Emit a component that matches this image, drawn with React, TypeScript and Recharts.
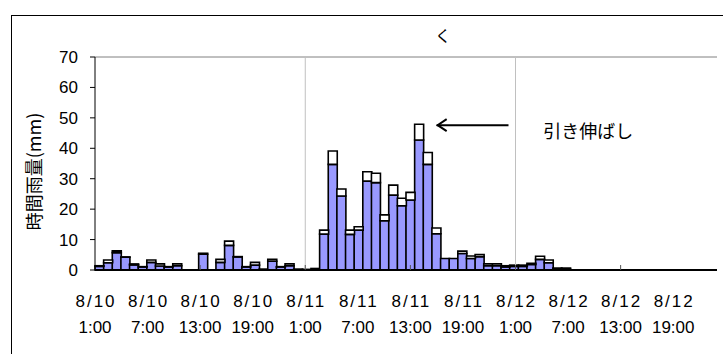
import React from "react";
import {
  Bar,
  BarChart,
  ReferenceDot,
  ReferenceLine,
  XAxis,
  YAxis,
} from "recharts";

const FONT = "'Noto Sans CJK JP', 'Liberation Sans', sans-serif";
const NUM_FONT = "'Liberation Sans', Arial, sans-serif";

const days = ["8/10", "8/11", "8/12"];

// hourly rainfall (mm), 8/10 1:00 .. 8/13 0:00
const observed = [
  1.2, 2.4, 5.7, 4.2, 1.7, 1.0, 2.5, 1.3, 1.0, 1.4, 0, 0,
  5.2, 0, 2.5, 8.1, 4.3, 1.0, 1.6, 0.3, 2.9, 1.0, 1.4, 0.3,
  0.2, 0.5, 11.8, 34.7, 24.3, 11.7, 13.1, 29.2, 28.7, 16.2, 24.6, 21.1,
  23.0, 42.7, 34.7, 11.9, 3.8, 3.8, 5.4, 3.8, 4.4, 1.4, 1.4, 1.0,
  1.2, 1.2, 1.8, 3.5, 2.4, 0.5, 0.5, 0, 0, 0, 0, 0,
  0, 0, 0, 0, 0, 0, 0, 0, 0, 0, 0, 0,
];

// extra amount added by stretching (引き伸ばし)
const stretched = [
  0.2, 0.9, 0.6, 0.1, 0.3, 0.1, 0.8, 0.7, 0.1, 0.6, 0, 0,
  0.3, 0, 1.0, 1.4, 0.1, 0.1, 0.9, 0, 0.6, 0.1, 0.6, 0,
  0, 0, 1.3, 4.4, 2.3, 1.4, 1.1, 3.1, 3.1, 1.9, 3.3, 2.5,
  2.5, 5.2, 3.9, 1.9, 0, 0, 0.8, 0.8, 0.7, 0.6, 0.6, 0.4,
  0.4, 0.4, 0.4, 1.0, 0.9, 0.1, 0.1, 0, 0, 0, 0, 0,
  0, 0, 0, 0, 0, 0, 0, 0, 0, 0, 0, 0,
];

const tickPositions = [0, 6, 12, 18, 24, 30, 36, 42, 48, 54, 60, 66];
const tickLabels = [
  ["8/10", "1:00"], ["8/10", "7:00"], ["8/10", "13:00"], ["8/10", "19:00"],
  ["8/11", "1:00"], ["8/11", "7:00"], ["8/11", "13:00"], ["8/11", "19:00"],
  ["8/12", "1:00"], ["8/12", "7:00"], ["8/12", "13:00"], ["8/12", "19:00"],
];
const yTicks = [0, 10, 20, 30, 40, 50, 60, 70];

const data = observed.map((v, i) => ({
  t: `${days[Math.floor(i / 24)] ?? "8/12"} ${(i % 24) + 1}:00`,
  observed: v,
  stretched: stretched[i],
}));

function HourTick(props: any) {
  const { x, y, payload } = props;
  const idx = tickPositions.indexOf(payload.value);
  const [d, h] = tickLabels[idx] ?? ["", ""];
  return (
    <g>
      {payload.value % 12 === 0 && payload.value > 0 ? (
        <line x1={x} x2={x} y1={y} y2={y - 5} stroke="#555" />
      ) : null}
      <text
        x={x + 1}
        y={y + 37}
        textAnchor="middle"
        fontSize={17}
        fontFamily={NUM_FONT}
        letterSpacing={2}
        fill="#000"
      >
        {d}
      </text>
      <text x={x} y={y + 63} textAnchor="middle" fontSize={17} fontFamily={NUM_FONT} fill="#000">
        {h}
      </text>
    </g>
  );
}

function Arrow(props: any) {
  const { x1, y1, x2, y2 } = props;
  return (
    <g>
      <line x1={x1} y1={y1} x2={x2} y2={y2} stroke="#000" strokeWidth={2} />
      <polyline
        points={`${x2 + 10},${y2 - 6} ${x2 + 1},${y2} ${x2 + 10},${y2 + 6}`}
        fill="none"
        stroke="#000"
        strokeWidth={2}
      />
    </g>
  );
}

export default function App() {
  return (
    <div
      style={{
        position: "absolute",
        left: 0,
        top: 0,
        width: 723,
        height: 354,
        overflow: "hidden",
        background: "#fff",
        fontFamily: FONT,
      }}
    >
      <div
        style={{
          position: "absolute",
          left: 11,
          top: 15,
          width: 800,
          height: 400,
          borderLeft: "1px solid #000",
          borderTop: "1px solid #000",
        }}
      />
      <div
        style={{
          position: "absolute",
          left: 433,
          top: 25,
          width: 20,
          textAlign: "center",
          fontSize: 16,
          lineHeight: "20px",
        }}
      >
        く
      </div>
      <BarChart
        width={723}
        height={354}
        data={data}
        margin={{ top: 57, right: 6, bottom: 0, left: 20 }}
        barCategoryGap={0}
        barGap={0}
        style={{ position: "absolute", left: 0, top: 0 }}
      >
        <XAxis dataKey="t" hide height={0} />
        <XAxis
          xAxisId="num"
          type="number"
          domain={[0, 72]}
          ticks={tickPositions}
          interval={0}
          height={84}
          tickSize={0}
          tickMargin={0}
          tick={<HourTick />}
          axisLine={{ stroke: "#000", strokeWidth: 2 }}
        />
        <YAxis
          width={75}
          domain={[0, 70]}
          ticks={yTicks}
          interval={0}
          tickSize={5}
          tickMargin={12}
          tick={{ fontSize: 17, fill: "#000", fontFamily: NUM_FONT }}
          tickLine={{ stroke: "#000" }}
          axisLine={{ stroke: "#000" }}
          label={{
            value: "時間雨量(mm)",
            angle: -90,
            position: "insideLeft",
            offset: 15,
            dy: 8,
            style: { fontSize: 18, fill: "#000", fontFamily: FONT, textAnchor: "middle" },
          }}
        />
        <ReferenceLine y={70} stroke="#808080" />
        <ReferenceLine xAxisId="num" x={72} stroke="#808080" />
        <ReferenceLine xAxisId="num" x={24} stroke="#c0c0c0" />
        <ReferenceLine xAxisId="num" x={48} stroke="#c0c0c0" />
        <Bar
          dataKey="observed"
          stackId="a"
          fill="#9999FF"
          stroke="#000"
          strokeWidth={1.6}
          isAnimationActive={false}
        />
        <Bar
          dataKey="stretched"
          stackId="a"
          fill="#FFFFFF"
          stroke="#000"
          strokeWidth={1.6}
          isAnimationActive={false}
        />
        <ReferenceLine
          xAxisId="num"
          segment={[
            { x: 47.2, y: 47.6 },
            { x: 39.0, y: 47.6 },
          ]}
          shape={<Arrow />}
        />
        <ReferenceDot
          xAxisId="num"
          x={56.3}
          y={45.5}
          r={0}
          fill="none"
          stroke="none"
          label={{
            value: "引き伸ばし",
            position: "center",
            style: { fontSize: 18, fill: "#000", fontFamily: FONT },
          }}
        />
      </BarChart>
    </div>
  );
}
